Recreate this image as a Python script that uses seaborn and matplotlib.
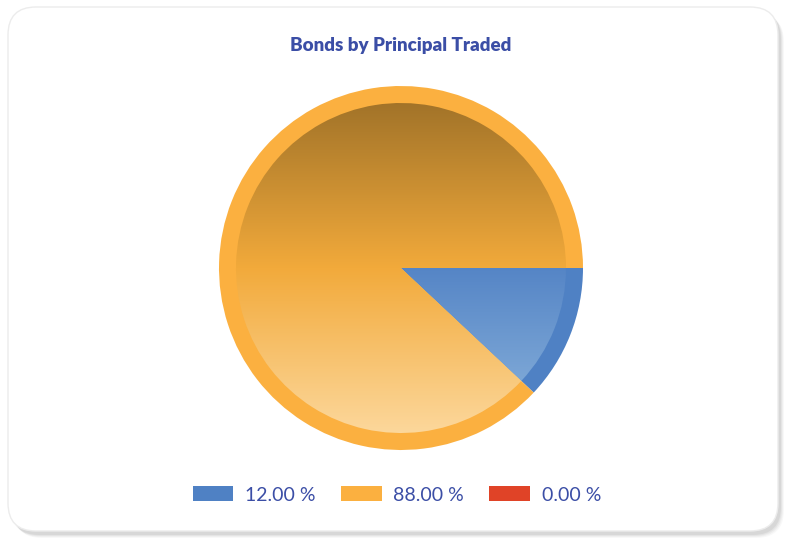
import numpy as np
import seaborn as sns
import matplotlib.pyplot as plt
from matplotlib.patches import FancyBboxPatch, Wedge, Patch
from matplotlib.colors import LinearSegmentedColormap

# data
labels = ['12.00 %', '88.00 %', '0.00 %']
shares = [12.0, 88.0, 0.0]
ring_colors = ['#4f81c4', '#fbb040', '#e04327']
grad_colors = [
    ['#2f5a9e', '#5585c6', '#93badf'],   # blue: top, middle, bottom
    ['#9a6e27', '#f2aa3b', '#fddca5'],   # orange
    ['#a82d1a', '#e04327', '#f29a86'],   # red
]
title = 'Bonds by Principal Traded'
text_color = '#3b4ea6'

sns.set_style('white')
plt.rcParams['font.family'] = ['Lato', 'DejaVu Sans']

W, H = 789, 540
fig = plt.figure(figsize=(W / 100, H / 100), dpi=100)
fig.patch.set_facecolor('white')
ax = fig.add_axes([0, 0, 1, 1])
ax.set_xlim(0, W)
ax.set_ylim(0, H)
ax.set_axis_off()

# card with soft shadow
for i, a in enumerate([0.05, 0.07, 0.09, 0.12]):
    off = 4 - i
    ax.add_patch(FancyBboxPatch((10 + off, 6 - off), 770, 524,
                                boxstyle='round,pad=0,rounding_size=28',
                                fc='#808080', ec='none', alpha=a, zorder=0))
ax.add_patch(FancyBboxPatch((8, 9), 770, 524,
                            boxstyle='round,pad=0,rounding_size=28',
                            fc='white', ec='#ececec', lw=1, zorder=1))

# pie
cx, cy, r = 401, 272, 182
wedges, _ = ax.pie(shares, colors=ring_colors, startangle=0, counterclock=False,
                   center=(cx, cy), radius=r, frame=True,
                   wedgeprops=dict(linewidth=0, zorder=2))
ax.set_xlim(0, W)
ax.set_ylim(0, H)
ax.set_axis_off()

# inner gradient fills
inner = r - 17
ys = np.linspace(0, 1, 256).reshape(-1, 1)
for w, cols in zip(wedges, grad_colors):
    if w.theta2 - w.theta1 <= 0:
        continue
    cmap = LinearSegmentedColormap.from_list('g', cols[::-1])
    im = ax.imshow(ys, cmap=cmap, extent=(cx - r, cx + r, cy - r, cy + r),
                   origin='lower', aspect='auto', zorder=3)
    clip = Wedge((cx, cy), inner, w.theta1, w.theta2, transform=ax.transData)
    im.set_clip_path(clip)
ax.set_xlim(0, W)
ax.set_ylim(0, H)

fig.text(0.508, 1 - 46 / H, title, ha='center', va='center',
         fontsize=13.5, fontweight='heavy', color=text_color)

handles = [Patch(facecolor=c, edgecolor='none') for c in ring_colors]
leg = fig.legend(handles, labels, loc='center', bbox_to_anchor=(0.503, 1 - 495 / H),
                 ncol=3, frameon=False, fontsize=14, handlelength=2.1,
                 handleheight=0.82, handletextpad=0.6, columnspacing=1.3)
for t in leg.get_texts():
    t.set_color(text_color)

fig.savefig('out.png', dpi=100)
